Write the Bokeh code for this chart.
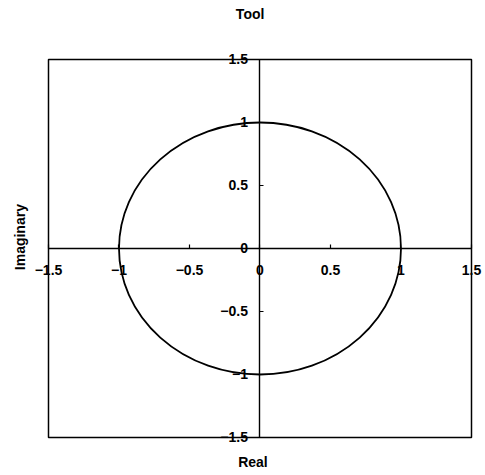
import math
from bokeh.plotting import figure
from bokeh.models import Range1d, FixedTicker, Label, LabelSet, ColumnDataSource
from bokeh.core.properties import value
from bokeh.embed import file_html
from bokeh.resources import INLINE

# Unit circle on the complex plane
center_re = [0.0]
center_im = [0.0]
diameter = [2.0]
ticks = [-1.5, -1.0, -0.5, 0.0, 0.5, 1.0, 1.5]
tick_labels = ["\u22121.5", "\u22121", "\u22120.5", "0", "0.5", "1", "1.5"]

FONT = "Liberation Sans"
LABEL_SIZE = "14px"

lo, hi = ticks[0], ticks[-1]
span = hi - lo

# The plotting frame fills the whole canvas; the boxed region [-1.5, 1.5]
# is drawn inside it so that edge labels and captions are not clipped.
p = figure(width=485, height=475, output_backend="svg", toolbar_location=None,
           x_range=Range1d(lo - 0.3404, hi + 0.0993),
           y_range=Range1d(lo - 0.3016, hi + 0.468),
           min_border=0)
p.grid.visible = False
p.background_fill_color = "white"
p.border_fill_color = "white"
p.outline_line_color = None

# plot box
p.rect(x=[(lo + hi) / 2], y=[(lo + hi) / 2], width=[span], height=[span],
       fill_color=None, line_color="black", line_width=1.5)

p.ellipse(x=center_re, y=center_im, width=diameter, height=diameter,
          fill_color=None, line_color="black", line_width=1.8)

for ax in (p.xaxis[0], p.yaxis[0]):
    ax.fixed_location = 0
    ax.bounds = (lo, hi)
    ax.ticker = FixedTicker(ticks=ticks)
    ax.axis_line_color = "black"
    ax.axis_line_width = 1.4
    ax.major_tick_in = 4
    ax.major_tick_out = 0
    ax.minor_tick_line_color = None
    ax.major_tick_line_color = "black"
    ax.major_tick_line_width = 1.2
    ax.major_label_standoff = 0
    ax.major_label_text_font_size = "0px"
    ax.major_label_text_color = None

zeros = [0.0] * len(ticks)
x_src = ColumnDataSource(dict(x=ticks, y=zeros, t=tick_labels))
y_src = ColumnDataSource(dict(x=zeros, y=ticks, t=tick_labels))

p.add_layout(LabelSet(x="x", y="y", text="t", source=x_src, y_offset=-22,
                      text_align="center", text_baseline="middle",
                      text_font=value(FONT), text_font_style="bold",
                      text_font_size=value(LABEL_SIZE), text_color="black"))
p.add_layout(LabelSet(x="x", y="y", text="t", source=y_src, x_offset=-12,
                      text_align="right", text_baseline="middle",
                      text_font=value(FONT), text_font_style="bold",
                      text_font_size=value(LABEL_SIZE), text_color="black"))

def caption(text, x, y, angle=0.0):
    p.add_layout(Label(x=x, y=y, text=text, angle=angle,
                       text_align="center", text_baseline="middle",
                       text_font=FONT, text_font_style="bold",
                       text_font_size=LABEL_SIZE, text_color="black"))

caption("Tool", -0.07, 1.857)
caption("Real", -0.05, -1.698)
caption("Imaginary", -1.70, 0.09, angle=math.pi / 2)

open("out.html", "w").write(file_html(p, INLINE))
